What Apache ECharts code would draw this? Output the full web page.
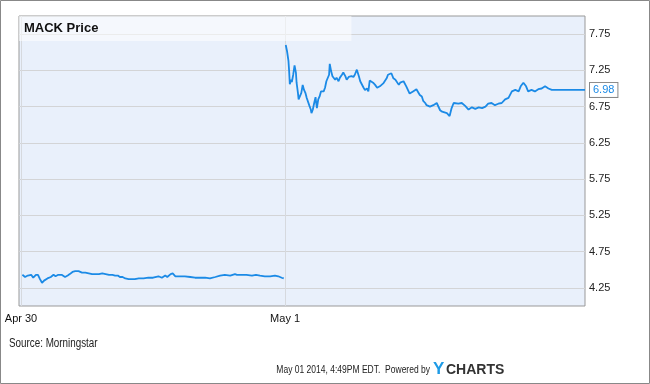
<!DOCTYPE html>
<html>
<head>
<meta charset="utf-8">
<script src="https://cdn.jsdelivr.net/npm/echarts@6/dist/echarts.min.js"></script>
<style>
html,body{margin:0;padding:0;background:#fff;}
#chart{width:650px;height:384px;}
</style>
</head>
<body>
<div id="chart"></div>
<script>
// Trading minutes after the open of each session
var apr30Minutes = [2,6,10,15,18,22,25,28,31,34,39,44,48,51,55,60,65,69,72,76,80,85,90,95,100,105,109,115,120,125,130,135,139,143,146,150,154,159,164,168,174,181,188,195,203,208,213,216,221,224,228,235,242,250,257,264,272,279,287,294,301,309,316,319,326,333,341,347,353,360,368,375,380,385,388];
var apr30Prices = [4.43,4.40,4.42,4.43,4.39,4.43,4.43,4.37,4.32,4.35,4.38,4.40,4.43,4.41,4.43,4.43,4.40,4.42,4.44,4.47,4.48,4.48,4.46,4.46,4.45,4.44,4.44,4.44,4.45,4.44,4.43,4.43,4.42,4.42,4.40,4.40,4.38,4.37,4.37,4.37,4.38,4.38,4.39,4.39,4.41,4.39,4.42,4.40,4.44,4.45,4.41,4.41,4.41,4.40,4.39,4.39,4.39,4.38,4.40,4.42,4.43,4.42,4.44,4.43,4.43,4.43,4.42,4.43,4.42,4.41,4.41,4.42,4.41,4.39,4.38];
var may1Minutes = [1,3,4,5,6,7,9,10,12,14,16,17,19,20,22,24,26,28,30,32,34,36,38,39,41,43,45,46,47,49,51,53,55,57,59,61,63,65,66,68,70,72,74,76,79,81,84,86,89,91,94,96,98,101,103,106,109,111,113,116,118,121,123,125,127,130,133,136,140,145,150,152,157,160,163,168,170,175,179,184,189,194,199,202,204,207,209,214,219,224,229,232,234,239,243,246,249,251,256,261,266,271,273,276,281,286,291,296,300,305,310,315,320,325,330,335,340,345,348,352,356,359,364,369,374,379,384,389,394,443];
var may1Prices = [7.60,7.51,7.49,7.38,7.24,7.06,7.12,7.09,7.19,7.32,7.22,7.08,6.94,6.85,6.86,6.94,7.05,6.98,6.94,6.87,6.85,6.76,6.71,6.66,6.71,6.80,6.88,6.80,6.73,6.85,6.89,6.96,6.98,6.96,7.01,7.10,7.08,7.19,7.34,7.24,7.17,7.19,7.12,7.15,7.10,7.15,7.19,7.22,7.17,7.12,7.16,7.15,7.17,7.16,7.19,7.26,7.17,7.10,7.11,7.01,6.98,7.00,6.96,7.11,7.10,7.08,7.05,7.01,7.03,7.07,7.14,7.19,7.21,7.14,7.12,7.05,7.08,7.10,7.03,6.93,6.96,6.99,6.91,6.89,6.83,6.80,6.77,6.75,6.77,6.80,6.70,6.68,6.68,6.66,6.62,6.73,6.80,6.82,6.79,6.80,6.76,6.71,6.70,6.74,6.72,6.74,6.73,6.75,6.79,6.80,6.77,6.79,6.80,6.85,6.87,6.96,6.98,6.96,7.03,7.08,7.03,6.96,6.98,6.96,6.99,7.00,7.03,7.00,6.98,6.98];
var sessionLength = 390;
var dayTickValues = [0, 390];
var dayTickLabels = ['Apr 30', 'May 1'];
var priceTicks = [4.25, 4.75, 5.25, 5.75, 6.25, 6.75, 7.25, 7.75];
var lastPrice = 6.98;

var lineColor = '#1b8ae6';
var regular = '"Liberation Sans", Arial, sans-serif';
var apr30Data = apr30Minutes.map(function (m, i) { return [m, apr30Prices[i]]; });
var may1Data = may1Minutes.map(function (m, i) { return [m + sessionLength, may1Prices[i]]; });

var chart = echarts.init(document.getElementById('chart'), null, {renderer: 'canvas'});
chart.setOption({
  animation: false,
  backgroundColor: '#fff',
  textStyle: {fontFamily: regular},
  title: {
    text: 'MACK Price',
    left: 19, top: 16,
    padding: [6, 253, 6, 5],
    backgroundColor: 'rgba(255,255,255,0.55)',
    textStyle: {fontSize: 13, fontWeight: 'bold', color: '#111', fontFamily: regular}
  },
  grid: {
    left: 19, right: 65, top: 16, bottom: 78,
    show: true, backgroundColor: '#e9f0fb', borderColor: '#999', borderWidth: 1, z: 0
  },
  xAxis: {
    type: 'value', min: -3, max: 833,
    axisLine: {show: false},
    axisTick: {show: false, customValues: dayTickValues},
    axisLabel: {
      customValues: dayTickValues, margin: 7, fontSize: 11, color: '#111',
      formatter: function (v) { var i = dayTickValues.indexOf(v); return i >= 0 ? dayTickLabels[i] : ''; }
    },
    splitLine: {show: true, lineStyle: {color: '#d6d9de', width: 1}}
  },
  yAxis: {
    type: 'value', position: 'right', min: 4, max: 8,
    axisLine: {show: false},
    axisTick: {show: false, customValues: priceTicks},
    axisLabel: {customValues: priceTicks, margin: 4, fontSize: 11, color: '#222',
      formatter: function (v) { return v.toFixed(2); }},
    splitLine: {show: true, lineStyle: {color: '#d3d4d6', width: 1}}
  },
  series: [
    {type: 'line', data: apr30Data, showSymbol: false, lineStyle: {color: lineColor, width: 1.8}, z: 3},
    {type: 'line', data: may1Data, showSymbol: false, lineStyle: {color: lineColor, width: 1.8}, z: 3,
     endLabel: {show: true, formatter: function () { return lastPrice.toFixed(2); },
       color: lineColor, fontSize: 11, backgroundColor: '#fff', borderColor: '#888', borderWidth: 1,
       padding: [2, 3, 1, 3], distance: 5}}
  ],
  graphic: [
    {type: 'rect', shape: {x: 0.5, y: 0.5, width: 649, height: 383}, style: {fill: 'none', stroke: '#888', lineWidth: 1}, silent: true},
    {type: 'text', x: 9, y: 338, scaleX: 0.82, style: {text: 'Source: Morningstar', fontSize: 12, fill: '#222', fontFamily: regular, align: 'left', verticalAlign: 'top'}},
    {type: 'text', x: 430, y: 365, scaleX: 0.81, style: {text: 'May 01 2014, 4:49PM EDT.  Powered by', fontSize: 10.5, fill: '#222', fontFamily: regular, align: 'right', verticalAlign: 'top'}},
    {type: 'text', x: 433, y: 361, style: {text: 'Y', fontSize: 17, fontWeight: 'bold', fill: '#1e9be6', fontFamily: regular, verticalAlign: 'top'}},
    {type: 'text', x: 446, y: 363, style: {text: 'CHARTS', fontSize: 14, fontWeight: 'bold', fill: '#333', fontFamily: regular, verticalAlign: 'top'}}
  ]
});
</script>
</body>
</html>
